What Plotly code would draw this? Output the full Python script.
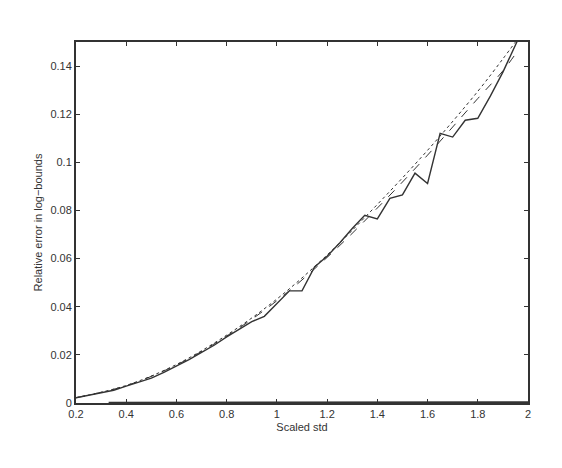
import plotly.graph_objects as go

# scaled std grid
x_std = [0.20, 0.25, 0.30, 0.35, 0.40, 0.45, 0.50, 0.55, 0.60, 0.65,
         0.70, 0.75, 0.80, 0.85, 0.90, 0.95, 1.00, 1.05, 1.10, 1.15,
         1.20, 1.25, 1.30, 1.35, 1.40, 1.45, 1.50, 1.55, 1.60, 1.65,
         1.70, 1.75, 1.80, 1.85, 1.90, 1.95, 2.00]

# empirical relative error (solid)
err_emp = [0.0022, 0.0033, 0.0043, 0.0053, 0.0070, 0.0086, 0.0103, 0.0127, 0.0153, 0.0180,
           0.0210, 0.0240, 0.0275, 0.0308, 0.0338, 0.0360, 0.0415, 0.0466, 0.0466, 0.0565,
           0.0610, 0.0665, 0.0725, 0.0780, 0.0765, 0.0850, 0.0865, 0.0955, 0.0912, 0.1120,
           0.1105, 0.1175, 0.1183, 0.1275, 0.1375, 0.1490, 0.1600]

# smooth approximations (dashed / dotted)
x_fit = [0.2, 0.4, 0.6, 0.8, 1.0, 1.2, 1.4, 1.6, 1.8, 1.9, 1.95]
err_dash = [0.0022, 0.0072, 0.0158, 0.0278, 0.0425, 0.0605, 0.0810, 0.1030, 0.1265, 0.1380, 0.1450]
err_dot = [0.0022, 0.0073, 0.0160, 0.0282, 0.0432, 0.0615, 0.0825, 0.1050, 0.1295, 0.1430, 0.1500]

# near-zero curve along the bottom
x_low = [0.33, 0.6, 1.0, 1.4, 2.0]
err_low = [0.0001, 0.00015, 0.0002, 0.00025, 0.0003]

ink = "#333333"

fig = go.Figure()
fig.add_trace(go.Scatter(x=x_low, y=err_low, mode="lines",
                         line=dict(color=ink, width=2)))
fig.add_trace(go.Scatter(x=x_fit, y=err_dot, mode="lines", line_shape="spline",
                         line=dict(color=ink, width=1, dash="dot")))
fig.add_trace(go.Scatter(x=x_fit, y=err_dash, mode="lines", line_shape="spline",
                         line=dict(color=ink, width=1, dash="dash")))
fig.add_trace(go.Scatter(x=x_std, y=err_emp, mode="lines",
                         line=dict(color=ink, width=1.4)))

# page body has an 8px margin, so the figure is shrunk to fit the window
fig.update_layout(
    width=546, height=452,
    margin=dict(l=68, r=26, t=34, b=57),
    paper_bgcolor="white", plot_bgcolor="white",
    showlegend=False,
    font=dict(family="Liberation Sans, Arial, sans-serif", size=11, color=ink),
)
fig.update_xaxes(
    range=[0.2, 2.0], tickvals=[0.2, 0.4, 0.6, 0.8, 1.0, 1.2, 1.4, 1.6, 1.8, 2.0],
    ticks="inside", ticklen=4, tickcolor=ink, showgrid=False, zeroline=False,
    showline=True, linecolor=ink, linewidth=2, mirror="ticks", automargin=False,
    title=dict(text="Scaled std", font=dict(size=11), standoff=4),
)
fig.update_yaxes(
    range=[0, 0.15], tickvals=[0, 0.02, 0.04, 0.06, 0.08, 0.1, 0.12, 0.14],
    ticks="inside", ticklen=4, tickcolor=ink, showgrid=False, zeroline=False,
    showline=True, linecolor=ink, linewidth=2, mirror="ticks", automargin=False,
    title=dict(text="Relative error in log\u2212bounds", font=dict(size=11), standoff=6),
)

fig.write_html("out.html")
